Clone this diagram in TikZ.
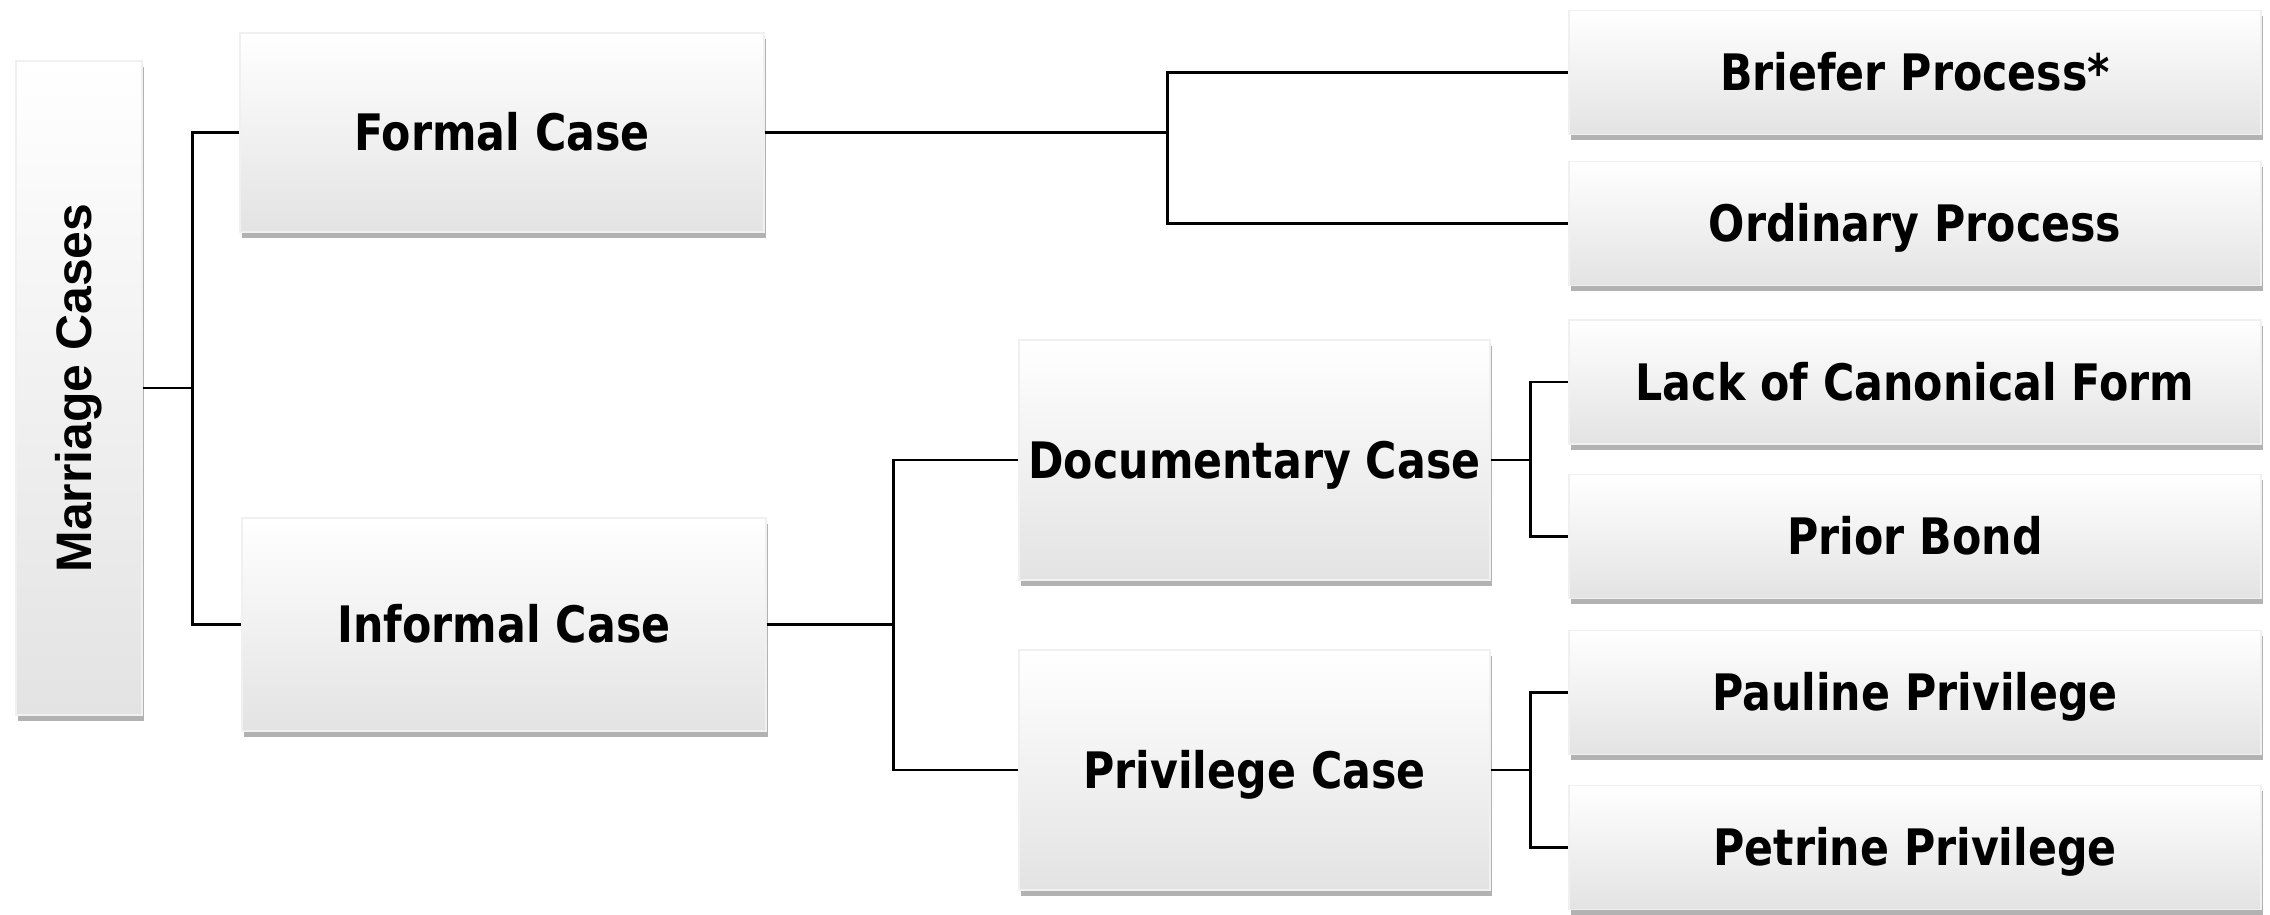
\documentclass[tikz,border=0pt]{standalone}
\usepackage{fontspec}
\setmainfont{DejaVu Sans}[FakeStretch=0.85]
\newfontfamily\rootfont{Liberation Sans}
\usepackage{tikz}
\usetikzlibrary{positioning, calc, shadows}
\tikzset{
  casebox/.style={rectangle, minimum width=5.24cm, minimum height=1.99cm, text centered, inner sep=0pt,
    text height=10.4pt, text depth=0pt,
    top color=white, middle color=white!96!black, bottom color=black!11, draw=black!6,
    drop shadow={shadow xshift=0.6pt, shadow yshift=-1.6pt, fill=black!55, opacity=0.55},
    font=\fontsize{14.3}{16}\selectfont\bfseries},
  leafbox/.style={casebox, minimum width=6.92cm, minimum height=1.24cm},
  rootbox/.style={casebox, minimum width=1.26cm, minimum height=6.54cm},
  link/.style={line width=0.75pt, black}
}
\begin{document}
\begin{tikzpicture}
\useasboundingbox (0,0) rectangle (22.70,-9.14);

% Root
\node (root) [rootbox] at (0.79,-3.88) {};
\node [rotate=90, font=\rootfont\fontsize{14.2}{16}\selectfont\bfseries] at (root.center) {Marriage Cases};

% Main cases
\node (formal) [casebox] at (5.02,-1.325) {Formal Case};
\node (informal) [casebox, minimum height=2.13cm] at (5.04,-6.245) {Informal Case};
\node (docu) [casebox, minimum width=4.71cm, minimum height=2.40cm] at (12.545,-4.60) {Documentary Case};
\node (priv) [casebox, minimum width=4.71cm, minimum height=2.40cm] at (12.545,-7.70) {Privilege Case};

% Processes and grounds
\node (briefer) [leafbox] at (19.15,-0.725) {Briefer Process*};
\node (ordinary) [leafbox] at (19.15,-2.235) {Ordinary Process};
\node (canon) [leafbox] at (19.15,-3.82) {Lack of Canonical Form};
\node (bond) [leafbox] at (19.15,-5.365) {Prior Bond};
\node (pauline) [leafbox] at (19.15,-6.925) {Pauline Privilege};
\node (petrine) [leafbox] at (19.15,-8.475) {Petrine Privilege};

% Connectors
\draw [link] (root.east) -- ++(0.5,0) |- (formal.west);
\draw [link] (root.east) -- ++(0.5,0) |- (informal.west);
\draw [link] (formal.east) -- ++(4.03,0) |- (briefer.west);
\draw [link] (formal.east) -- ++(4.03,0) |- (ordinary.west);
\draw [link] (informal.east) -- ++(1.27,0) |- (docu.west);
\draw [link] (informal.east) -- ++(1.27,0) |- (priv.west);
\draw [link] (docu.east) -- ++(0.40,0) |- (canon.west);
\draw [link] (docu.east) -- ++(0.40,0) |- (bond.west);
\draw [link] (priv.east) -- ++(0.40,0) |- (pauline.west);
\draw [link] (priv.east) -- ++(0.40,0) |- (petrine.west);

\end{tikzpicture}
\end{document}
